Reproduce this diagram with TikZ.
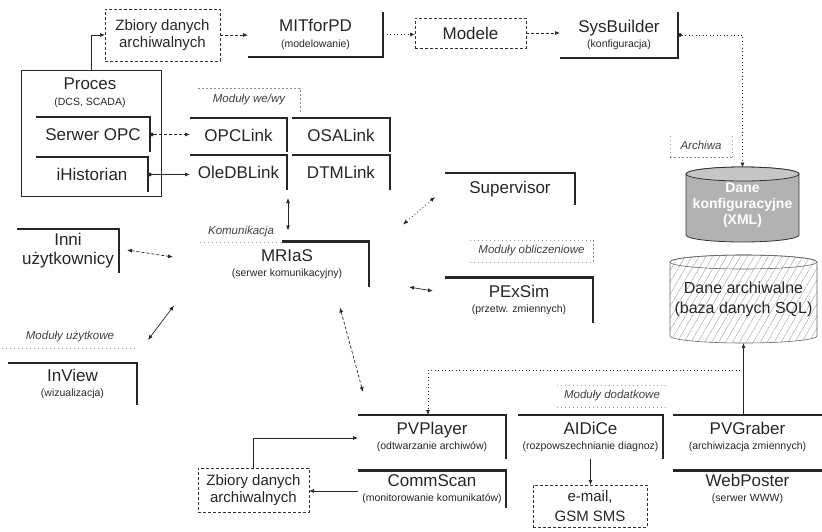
\documentclass[tikz,border=0pt]{standalone}
\usepackage{fontspec}
\setmainfont{Liberation Sans}
\usetikzlibrary{arrows.meta,patterns.meta}
\newcommand{\mf}{\fontsize{17}{18}\selectfont}
\newcommand{\sbf}{\fontsize{10.5}{12}\selectfont}
\newcommand{\zf}{\fontsize{15}{17}\selectfont}
\newcommand{\lf}{\fontsize{11.5}{13}\selectfont\itshape}
\begin{document}
\begin{tikzpicture}[x=1pt,y=-1pt,
  every node/.style={inner sep=0pt,outer sep=0pt,text=black!85},
  modn/.style={rectangle,align=center,font=\mf},
  thk/.style={line width=2.6pt,draw=black!85,line join=miter},
  dbox/.style={draw=black!80,dash pattern=on 3pt off 2pt,line width=0.8pt,align=center,font=\zf},
  lab/.style={font=\lf,text=black!75},
  lbord/.style={draw=black!45,line width=0.5pt,dash pattern=on 2pt off 2pt},
  lbdot/.style={draw=black!40,line width=0.5pt,dash pattern=on 1pt off 3pt},
  con/.style={draw=black!85,line width=0.7pt},
  arr/.style={con,-{Latex[length=5pt,width=4pt]}},
  darr/.style={con,{Latex[length=5pt,width=4pt]}-{Latex[length=5pt,width=4pt]}},
  dsh/.style={dash pattern=on 3pt off 2pt},
  dtt/.style={dash pattern=on 1pt off 2.5pt},
  dotstart/.style={{Circle[length=4pt]}-{Latex[length=5pt,width=4pt]}}
]
\useasboundingbox (0,0) rectangle (822,531);

% ---------- cylinders (drawn shapes) ----------
\path[draw=black!80,line width=0.8pt,fill=gray!60]
  (686,174) -- (686,235) arc[start angle=180,end angle=0,x radius=56.5,y radius=7]
  -- (799,174) arc[start angle=0,end angle=-180,x radius=56.5,y radius=7] -- cycle;
\draw[black!80,line width=0.8pt,fill=gray!45] (742.5,174) ellipse [x radius=56.5,y radius=7];

\path[pattern={Lines[angle=60,distance=6pt,line width=0.4pt]},pattern color=gray!75]
  (670,262) -- (670,336) arc[start angle=180,end angle=0,x radius=73.5,y radius=7]
  -- (817,262) arc[start angle=0,end angle=-180,x radius=73.5,y radius=7] -- cycle;
\path[draw=black!60,line width=0.6pt]
  (670,262) -- (670,336) arc[start angle=180,end angle=0,x radius=73.5,y radius=7]
  -- (817,262) arc[start angle=0,end angle=-180,x radius=73.5,y radius=7] -- cycle;
\draw[black!60,line width=0.6pt] (743.5,262) ellipse [x radius=73.5,y radius=7];

% ---------- nodes ----------
\node[dbox,minimum width=115pt,minimum height=52pt] (zb1) at (162.5,35) {Zbiory danych\\archiwalnych};
\node[draw=black!85,line width=0.8pt,minimum width=140pt,minimum height=126pt] (proces) at (91,133) {};
\node[font=\mf,align=center] (procest) at (90,93) {Proces\\[-2.3pt]{\sbf (DCS, SCADA)}};
\node[modn,minimum width=114pt,minimum height=35pt] (serwer) at (93,134.5) {Serwer OPC};
\node[modn,minimum width=112pt,minimum height=35pt] (ihist) at (92,174.5) {iHistorian};

\node[modn,minimum width=135pt,minimum height=45pt] (mit) at (315.5,34.5) {MITforPD\\[-2.3pt]{\sbf (modelowanie)}};
\node[dbox,font=\mf,minimum width=111pt,minimum height=30pt] (modele) at (470.5,33) {Modele};
\node[modn,minimum width=118pt,minimum height=46pt] (sys) at (619,35) {SysBuilder\\[-2.3pt]{\sbf (konfiguracja)}};

\node[modn,minimum width=97pt,minimum height=34pt] (opclink) at (238.5,135) {OPCLink};
\node[modn,minimum width=98pt,minimum height=34pt] (osalink) at (341,135) {OSALink};
\node[modn,minimum width=97pt,minimum height=35pt] (oledb) at (238.5,172.5) {OleDBLink};
\node[modn,minimum width=98pt,minimum height=35pt] (dtm) at (341,172.5) {DTMLink};

\node[modn,font=\fontsize{17}{19}\selectfont,minimum width=102pt,minimum height=44pt] (inni) at (68,251) {Inni\\użytkownicy};
\node[modn,minimum width=164pt,minimum height=45pt] (mrias) at (287,264) {MRIaS\\[-2.3pt]{\sbf (serwer komunikacyjny)}};
\node[modn,minimum width=130pt,minimum height=32pt] (sup) at (510,189) {Supervisor};
\node[modn,minimum width=148pt,minimum height=45pt] (pexsim) at (519,300) {PExSim\\[-2.3pt]{\sbf (przetw. zmiennych)}};
\node[modn,minimum width=129pt,minimum height=42pt] (inview) at (72.5,384) {InView\\[-2.3pt]{\sbf (wizualizacja)}};

\node[modn,minimum width=148pt,minimum height=44pt] (pvplayer) at (432,437) {PVPlayer\\[-2.3pt]{\sbf (odtwarzanie archiwów)}};
\node[modn,minimum width=148pt,minimum height=37pt] (commscan) at (432,489) {CommScan\\[-2.3pt]{\sbf (monitorowanie komunikatów)}};
\node[modn,minimum width=145pt,minimum height=44pt] (aidice) at (590.5,437) {AIDiCe\\[-2.3pt]{\sbf (rozpowszechnianie diagnoz)}};
\node[dbox,font=\fontsize{15}{20}\selectfont,minimum width=114pt,minimum height=42pt] (email) at (590,506) {e-mail,\\GSM SMS};
\node[modn,minimum width=149pt,minimum height=44pt] (pvgraber) at (747.5,437) {PVGraber\\[-2.3pt]{\sbf (archiwizacja zmiennych)}};
\node[modn,minimum width=149pt,minimum height=37pt] (webposter) at (747.5,489) {WebPoster\\[-2.3pt]{\sbf (serwer WWW)}};
\node[dbox,minimum width=111pt,minimum height=44pt] (zb2) at (253.5,490) {Zbiory danych\\archiwalnych};

\node[font=\fontsize{14}{16}\selectfont\bfseries,text=white,align=center,minimum width=113pt,minimum height=75pt] (db1) at (742.5,205) {Dane\\konfiguracyjne\\(XML)};
\node[font=\fontsize{16}{20}\selectfont,align=center,minimum width=147pt,minimum height=88pt] (db2) at (743.5,299) {Dane archiwalne\\(baza danych SQL)};

% ---------- thick module edges ----------
\foreach \n in {serwer,ihist,opclink,osalink,oledb,dtm,inni,mrias,sup,pexsim,inview,pvplayer,commscan,aidice}
  \draw[thk] (\n.north west) -- (\n.north east) -- (\n.south east);
\foreach \n in {pvgraber,webposter}
  \draw[thk] (\n.north west) -- (\n.north east);
\foreach \n in {mit,sys}
  \draw[thk] (\n.south west) -- (\n.south east) -- (\n.north east);

% ---------- group labels ----------
\node[lab,minimum width=102pt,minimum height=24pt] (lwewy) at (249,100) {Moduły we/wy};
\draw[lbord] (lwewy.south east) -- (lwewy.north east) -- (lwewy.north west);
\node[lab,fill=white,minimum width=82pt,minimum height=21pt] (lkom) at (241,232) {Komunikacja};
\draw[lbdot] (lkom.south west) -- (lkom.south east);
\node[lab,minimum width=123pt,minimum height=22pt] (lobl) at (531.5,251) {Moduły obliczeniowe};
\draw[lbdot] (lobl.north west) -- (lobl.north east);
\draw[lbdot] (lobl.south west) -- (lobl.south east);
\draw[lbord] (lobl.north east) -- (lobl.south east);
\node[lab,minimum width=136pt,minimum height=23pt] (luzyt) at (70,337) {Moduły użytkowe};
\draw[lbdot] (luzyt.south west) -- (luzyt.south east);
\node[lab,minimum width=110pt,minimum height=22pt] (ldod) at (612,396) {Moduły dodatkowe};
\draw[lbdot] (ldod.north west) -- (ldod.north east);
\draw[lbdot] (ldod.south west) -- (ldod.south east);
\node[lab,minimum width=62pt,minimum height=24pt] (larch) at (701,145) {Archiwa};
\draw[lbord] (larch.south west) -- (larch.south east);
\draw[lbdot] (larch.south west) -- (larch.north west);
\draw[lbdot] (larch.south east) -- (larch.north east);

% ---------- connectors ----------
\draw[arr] (proces.north) |- (zb1.west);
\draw[arr,dsh] (zb1.east) -- (zb1.east -| mit.west);
\draw[arr,dtt] (mit.east) -- (mit.east -| modele.west);
\draw[arr,dsh] (modele.east) -- (modele.east -| sys.west);
\draw[con,dtt,dotstart] (sys.east) -| (db1.north);
\draw[con,dsh,dotstart] (serwer.east) -- (serwer.east -| opclink.west);
\draw[con,dotstart] (ihist.east) -- (ihist.east -| oledb.west);
\draw[darr] ([shift={(1,8)}]oledb.south east) -- ([shift={(1,-11)}]mrias.north);
\draw[darr,dsh] ([shift={(8,-1)}]inni.east) -- ([shift={(-32,-7)}]mrias.west);
\draw[darr] ([shift={(11,-23)}]inview.north east) -- ([shift={(-31,19)}]mrias.south west);
\draw[darr,dsh] ([shift={(-29,21)}]mrias.south east) -- ([shift={(5,-23)}]pvplayer.north west);
\draw[darr,dtt] ([shift={(34,-17)}]mrias.north east) -- ([shift={(-10,-8)}]sup.south west);
\draw[darr] ([shift={(40,23)}]mrias.east) -- ([shift={(-12,-9)}]pexsim.west);
\draw[arr] (zb2.north) |- ([shift={(0,1)}]pvplayer.west);
\draw[arr] ([shift={(0,2)}]commscan.west) coordinate (cs) -- (cs -| zb2.east);
\draw[arr] (aidice.south) -- (aidice.south |- email.north);
\draw[arr] (pvgraber.north -| db2.south) -- (db2.south);
\coordinate (jn) at (743.5,370);
\draw[arr,dtt] (jn) -| ([shift={(-4,0)}]pvplayer.north);
\end{tikzpicture}
\end{document}
